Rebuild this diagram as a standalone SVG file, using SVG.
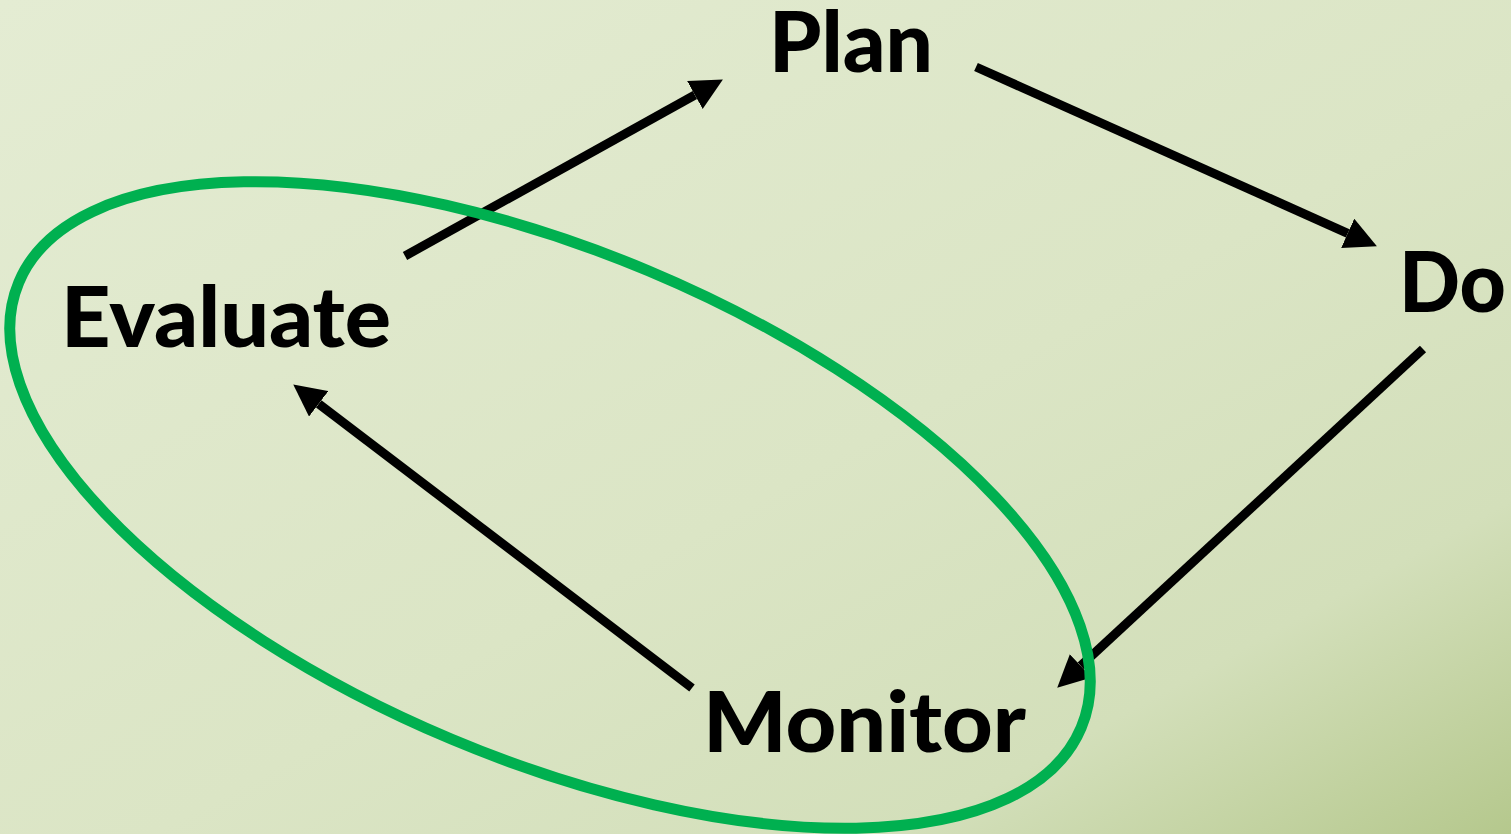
<svg xmlns="http://www.w3.org/2000/svg" width="1511" height="834" viewBox="0 0 1511 834">
<style>
.lbl{font-family:Lato,"Liberation Sans",sans-serif;font-weight:900;font-size:84px;fill:#000}
.arr{stroke:#000;stroke-width:9;fill:none;marker-end:url(#ah)}
</style>
<defs>
<linearGradient id="bg" x1="0" y1="0" x2="1" y2="1">
<stop offset="0" stop-color="#e4ecd3"/>
<stop offset="0.55" stop-color="#dbe5c5"/>
<stop offset="0.8" stop-color="#d3dfba"/>
<stop offset="1" stop-color="#b5c88d"/>
</linearGradient>
<marker id="ah" markerUnits="userSpaceOnUse" markerWidth="32" markerHeight="32" refX="0" refY="16" orient="auto" viewBox="0 0 32 32">
<path d="M0,0 L32,16 L0,32 z" fill="#000"/>
</marker>
</defs>
<rect width="1511" height="834" fill="url(#bg)"/>
<g id="connectors">
<path class="arr" d="M405,256 L694.9,95"/>
<path class="arr" d="M976,67 L1347.7,233.3"/>
<path class="arr" d="M1423,349 L1080.7,665.9"/>
<path class="arr" d="M692,688 L318.7,403.8"/>
</g>
<g id="plan"><text class="lbl" x="769" y="72" textLength="164" lengthAdjust="spacingAndGlyphs">Plan</text></g>
<g id="do"><text class="lbl" x="1399" y="312" textLength="107" lengthAdjust="spacingAndGlyphs">Do</text></g>
<g id="evaluate"><text class="lbl" x="61" y="347" textLength="330" lengthAdjust="spacingAndGlyphs">Evaluate</text></g>
<g id="monitor"><text class="lbl" x="703" y="752" textLength="323" lengthAdjust="spacingAndGlyphs">Monitor</text></g>
<g id="focus">
<ellipse cx="550" cy="505" rx="576" ry="254" transform="rotate(22.75 550 505)" fill="none" stroke="#00b050" stroke-width="11"/>
</g>
</svg>
